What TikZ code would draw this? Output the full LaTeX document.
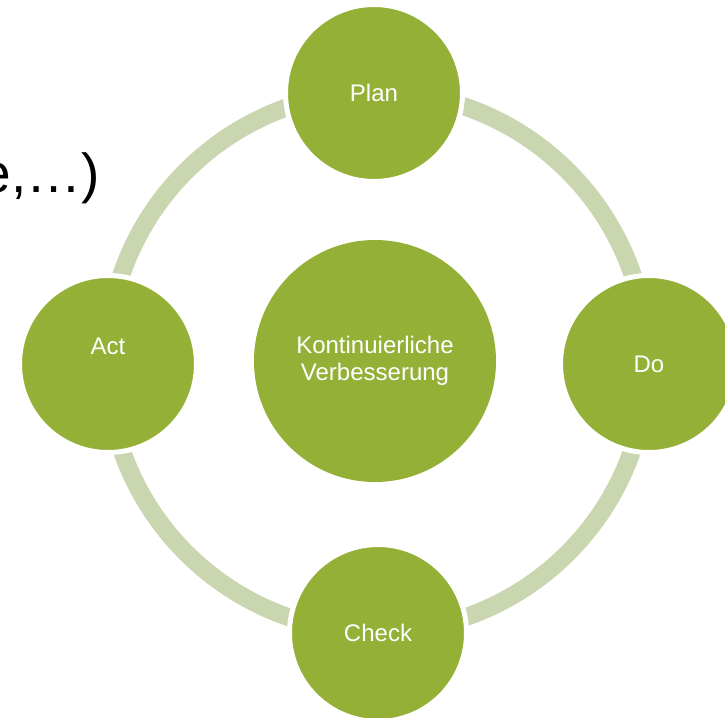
\documentclass[tikz,border=0pt]{standalone}
\usepackage{fontspec}
\setmainfont{Liberation Sans}
\usepackage{xcolor}
\definecolor{cyclegreen}{HTML}{94B036}
\definecolor{ringgreen}{HTML}{C9D6B0}

\begin{document}
\begin{tikzpicture}[x=1pt,y=-1pt,
    stage/.style={circle,fill=cyclegreen,draw=white,line width=5pt,
        minimum size=177pt,inner sep=0pt,text=white,
        font=\fontsize{24}{26}\selectfont},
    core/.style={circle,fill=cyclegreen,minimum size=242pt,inner sep=0pt,
        text=white,align=center,font=\fontsize{24}{27}\selectfont}]
                \clip (0,0) rectangle (725,717);
                
                \node[anchor=base east,inner sep=0pt,font=\fontsize{55}{60}\selectfont] (leftover) at (100,192) {e,…)};
                
                \draw[ringgreen,line width=18pt] (377,362) circle (270pt);
                
                \node[core] (kvp) at (375,361) {Kontinuierliche\\Verbesserung};
                
                \node[stage] (plan) at (374,93) {Plan};
                \node[stage] (do) at (649,364) {Do};
                \node[stage] (check) at (378,633) {Check};
                \node[stage,label={[text=white,font=\fontsize{24}{26}\selectfont,yshift=18pt]center:Act}] (act) at (108,364) {};
            \end{tikzpicture}
\end{document}
